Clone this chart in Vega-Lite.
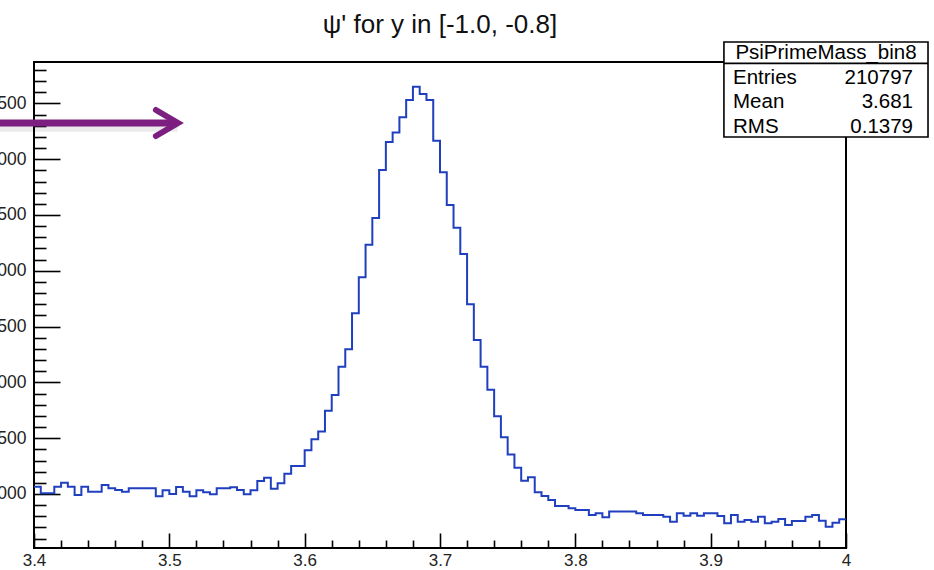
{
  "$schema": "https://vega.github.io/schema/vega-lite/v6.json",
  "width": 812,
  "height": 486,
  "autosize": {"type": "none"},
  "padding": {"left": 34, "top": 62, "right": 88, "bottom": 22},
  "background": "white",
  "title": {"text": "ψ' for y in [-1.0, -0.8]", "fontSize": 26, "font": "Liberation Sans", "fontWeight": "normal", "color": "#111111", "offset": 3, "anchor": "middle"},
  "config": {
    "view": {"stroke": "black", "strokeWidth": 2},
    "axis": {"labelFont": "Liberation Sans", "labelFontSize": 17.5, "labelColor": "#222222", "tickColor": "black", "tickWidth": 1.6, "grid": false, "domain": false, "title": null, "labelFlush": false, "labelOverlap": false}
  },
  "resolve": {"axis": {"x": "independent", "y": "independent"}},
  "datasets": {
    "hist": [
      {"lo": 3.400, "hi": 3.405, "n": 1065}, {"lo": 3.405, "hi": 3.410, "n": 1006}, {"lo": 3.410, "hi": 3.415, "n": 1006}, {"lo": 3.415, "hi": 3.420, "n": 1065},
      {"lo": 3.420, "hi": 3.425, "n": 1101}, {"lo": 3.425, "hi": 3.430, "n": 1065}, {"lo": 3.430, "hi": 3.435, "n": 991}, {"lo": 3.435, "hi": 3.440, "n": 1065},
      {"lo": 3.440, "hi": 3.445, "n": 1021}, {"lo": 3.445, "hi": 3.450, "n": 1021}, {"lo": 3.450, "hi": 3.455, "n": 1081}, {"lo": 3.455, "hi": 3.460, "n": 1051},
      {"lo": 3.460, "hi": 3.465, "n": 1036}, {"lo": 3.465, "hi": 3.470, "n": 1021}, {"lo": 3.470, "hi": 3.475, "n": 1051}, {"lo": 3.475, "hi": 3.480, "n": 1051},
      {"lo": 3.480, "hi": 3.485, "n": 1051}, {"lo": 3.485, "hi": 3.490, "n": 1051}, {"lo": 3.490, "hi": 3.495, "n": 979}, {"lo": 3.495, "hi": 3.500, "n": 1033},
      {"lo": 3.500, "hi": 3.505, "n": 999}, {"lo": 3.505, "hi": 3.510, "n": 1062}, {"lo": 3.510, "hi": 3.515, "n": 1021}, {"lo": 3.515, "hi": 3.520, "n": 979},
      {"lo": 3.520, "hi": 3.525, "n": 1033}, {"lo": 3.525, "hi": 3.530, "n": 1015}, {"lo": 3.530, "hi": 3.535, "n": 997}, {"lo": 3.535, "hi": 3.540, "n": 1051},
      {"lo": 3.540, "hi": 3.545, "n": 1051}, {"lo": 3.545, "hi": 3.550, "n": 1060}, {"lo": 3.550, "hi": 3.555, "n": 1036}, {"lo": 3.555, "hi": 3.560, "n": 997},
      {"lo": 3.560, "hi": 3.565, "n": 1033}, {"lo": 3.565, "hi": 3.570, "n": 1116}, {"lo": 3.570, "hi": 3.575, "n": 1146}, {"lo": 3.575, "hi": 3.580, "n": 1048},
      {"lo": 3.580, "hi": 3.585, "n": 1096}, {"lo": 3.585, "hi": 3.590, "n": 1182}, {"lo": 3.590, "hi": 3.595, "n": 1251}, {"lo": 3.595, "hi": 3.600, "n": 1251},
      {"lo": 3.600, "hi": 3.605, "n": 1391}, {"lo": 3.605, "hi": 3.610, "n": 1490}, {"lo": 3.610, "hi": 3.615, "n": 1561}, {"lo": 3.615, "hi": 3.620, "n": 1746},
      {"lo": 3.620, "hi": 3.625, "n": 1887}, {"lo": 3.625, "hi": 3.630, "n": 2141}, {"lo": 3.630, "hi": 3.635, "n": 2297}, {"lo": 3.635, "hi": 3.640, "n": 2619},
      {"lo": 3.640, "hi": 3.645, "n": 2942}, {"lo": 3.645, "hi": 3.650, "n": 3234}, {"lo": 3.650, "hi": 3.655, "n": 3473}, {"lo": 3.655, "hi": 3.660, "n": 3903},
      {"lo": 3.660, "hi": 3.665, "n": 4154}, {"lo": 3.665, "hi": 3.670, "n": 4240}, {"lo": 3.670, "hi": 3.675, "n": 4375}, {"lo": 3.675, "hi": 3.680, "n": 4530},
      {"lo": 3.680, "hi": 3.685, "n": 4649}, {"lo": 3.685, "hi": 3.690, "n": 4584}, {"lo": 3.690, "hi": 3.695, "n": 4530}, {"lo": 3.695, "hi": 3.700, "n": 4166},
      {"lo": 3.700, "hi": 3.705, "n": 3882}, {"lo": 3.705, "hi": 3.710, "n": 3589}, {"lo": 3.710, "hi": 3.715, "n": 3386}, {"lo": 3.715, "hi": 3.720, "n": 3150},
      {"lo": 3.720, "hi": 3.725, "n": 2700}, {"lo": 3.725, "hi": 3.730, "n": 2380}, {"lo": 3.730, "hi": 3.735, "n": 2141}, {"lo": 3.735, "hi": 3.740, "n": 1935},
      {"lo": 3.740, "hi": 3.745, "n": 1696}, {"lo": 3.745, "hi": 3.750, "n": 1508}, {"lo": 3.750, "hi": 3.755, "n": 1354}, {"lo": 3.755, "hi": 3.760, "n": 1235},
      {"lo": 3.760, "hi": 3.765, "n": 1119}, {"lo": 3.765, "hi": 3.770, "n": 1149}, {"lo": 3.770, "hi": 3.775, "n": 1015}, {"lo": 3.775, "hi": 3.780, "n": 982},
      {"lo": 3.780, "hi": 3.785, "n": 946}, {"lo": 3.785, "hi": 3.790, "n": 892}, {"lo": 3.790, "hi": 3.795, "n": 892}, {"lo": 3.795, "hi": 3.800, "n": 872},
      {"lo": 3.800, "hi": 3.805, "n": 857}, {"lo": 3.805, "hi": 3.810, "n": 857}, {"lo": 3.810, "hi": 3.815, "n": 812}, {"lo": 3.815, "hi": 3.820, "n": 827},
      {"lo": 3.820, "hi": 3.825, "n": 791}, {"lo": 3.825, "hi": 3.830, "n": 842}, {"lo": 3.830, "hi": 3.835, "n": 842}, {"lo": 3.835, "hi": 3.840, "n": 842},
      {"lo": 3.840, "hi": 3.845, "n": 842}, {"lo": 3.845, "hi": 3.850, "n": 827}, {"lo": 3.850, "hi": 3.855, "n": 812}, {"lo": 3.855, "hi": 3.860, "n": 812},
      {"lo": 3.860, "hi": 3.865, "n": 812}, {"lo": 3.865, "hi": 3.870, "n": 797}, {"lo": 3.870, "hi": 3.875, "n": 752}, {"lo": 3.875, "hi": 3.880, "n": 827},
      {"lo": 3.880, "hi": 3.885, "n": 806}, {"lo": 3.885, "hi": 3.890, "n": 827}, {"lo": 3.890, "hi": 3.895, "n": 806}, {"lo": 3.895, "hi": 3.900, "n": 827},
      {"lo": 3.900, "hi": 3.905, "n": 827}, {"lo": 3.905, "hi": 3.910, "n": 803}, {"lo": 3.910, "hi": 3.915, "n": 737}, {"lo": 3.915, "hi": 3.920, "n": 812},
      {"lo": 3.920, "hi": 3.925, "n": 752}, {"lo": 3.925, "hi": 3.930, "n": 767}, {"lo": 3.930, "hi": 3.935, "n": 752}, {"lo": 3.935, "hi": 3.940, "n": 797},
      {"lo": 3.940, "hi": 3.945, "n": 737}, {"lo": 3.945, "hi": 3.950, "n": 752}, {"lo": 3.950, "hi": 3.955, "n": 776}, {"lo": 3.955, "hi": 3.960, "n": 722},
      {"lo": 3.960, "hi": 3.965, "n": 758}, {"lo": 3.965, "hi": 3.970, "n": 758}, {"lo": 3.970, "hi": 3.975, "n": 797}, {"lo": 3.975, "hi": 3.980, "n": 812},
      {"lo": 3.980, "hi": 3.985, "n": 761}, {"lo": 3.985, "hi": 3.990, "n": 707}, {"lo": 3.990, "hi": 3.995, "n": 743}, {"lo": 3.995, "hi": 4.000, "n": 773}
    ],
    "shaft": [{"x0": 3.36, "x1": 3.5055, "y": 4324}],
    "shadow": [{"x0": 3.36, "x1": 3.506, "y": 4272}],
    "head": [
      {"k": 0, "x": 3.4901, "y": 4441},
      {"k": 1, "x": 3.5064, "y": 4324},
      {"k": 2, "x": 3.4901, "y": 4208}
    ],
    "box": [{"x0": 3.9098, "x1": 4.0606, "y0": 4199, "y1": 5050, "ysep": 4859}],
    "header": [{"name": "PsiPrimeMass_bin8", "y": 4952}],
    "stats": [
      {"key": "Entries", "val": "210797", "y": 4728},
      {"key": "Mean", "val": "3.681", "y": 4512},
      {"key": "RMS", "val": "0.1379", "y": 4289}
    ]
  },
  "layer": [
    {
      "data": {"name": "hist"},
      "transform": [{"fold": ["lo", "hi"], "as": ["edge", "xv"]}],
      "mark": {"type": "line", "color": "#1f3fbf", "strokeWidth": 2, "strokeJoin": "miter", "clip": true},
      "encoding": {
        "x": {"field": "xv", "type": "quantitative",
              "scale": {"domain": [3.4, 4.0], "nice": false, "zero": false},
              "axis": {"orient": "bottom", "values": [3.4, 3.5, 3.6, 3.7, 3.8, 3.9, 4.0], "format": ".1~f", "tickSize": -15, "labelPadding": 19, "labelFontSize": 17}},
        "y": {"field": "n", "type": "quantitative",
              "scale": {"domain": [516, 4871], "nice": false, "zero": false},
              "axis": {"orient": "left", "values": [1000, 1500, 2000, 2500, 3000, 3500, 4000, 4500], "format": "d", "tickSize": -26, "labelPadding": 34}},
        "order": {"value": null}
      }
    },
    {
      "data": {"name": "shadow"},
      "mark": {"type": "rule", "color": "#000000", "opacity": 0.08, "strokeWidth": 6, "clip": false},
      "encoding": {
        "x": {"field": "x0", "type": "quantitative",
              "axis": {"orient": "bottom", "values": [3.42, 3.44, 3.46, 3.48, 3.52, 3.54, 3.56, 3.58, 3.62, 3.64, 3.66, 3.68, 3.72, 3.74, 3.76, 3.78, 3.82, 3.84, 3.86, 3.88, 3.92, 3.94, 3.96, 3.98], "labels": false, "tickSize": -8}},
        "x2": {"field": "x1"},
        "y": {"field": "y", "type": "quantitative",
              "axis": {"orient": "left", "values": [600, 700, 800, 900, 1100, 1200, 1300, 1400, 1600, 1700, 1800, 1900, 2100, 2200, 2300, 2400, 2600, 2700, 2800, 2900, 3100, 3200, 3300, 3400, 3600, 3700, 3800, 3900, 4100, 4200, 4300, 4400, 4600, 4700, 4800], "labels": false, "tickSize": -12}}
      }
    },
    {
      "data": {"name": "shaft"},
      "mark": {"type": "rule", "color": "#7d1f80", "strokeWidth": 7, "clip": false},
      "encoding": {
        "x": {"field": "x0", "type": "quantitative", "axis": null},
        "x2": {"field": "x1"},
        "y": {"field": "y", "type": "quantitative", "axis": null}
      }
    },
    {
      "data": {"name": "head"},
      "mark": {"type": "line", "color": "#7d1f80", "strokeWidth": 6, "strokeCap": "round", "strokeJoin": "miter", "clip": false},
      "encoding": {
        "x": {"field": "x", "type": "quantitative", "axis": null},
        "y": {"field": "y", "type": "quantitative", "axis": null},
        "order": {"field": "k"}
      }
    },
    {
      "data": {"name": "box"},
      "mark": {"type": "rect", "fill": "white", "stroke": "black", "strokeWidth": 1.6, "clip": false},
      "encoding": {
        "x": {"field": "x0", "type": "quantitative", "axis": null},
        "x2": {"field": "x1"},
        "y": {"field": "y0", "type": "quantitative", "axis": null},
        "y2": {"field": "y1"}
      }
    },
    {
      "data": {"name": "box"},
      "mark": {"type": "rule", "color": "black", "strokeWidth": 1.6, "clip": false},
      "encoding": {
        "x": {"field": "x0", "type": "quantitative", "axis": null},
        "x2": {"field": "x1"},
        "y": {"field": "ysep", "type": "quantitative", "axis": null}
      }
    },
    {
      "data": {"name": "header"},
      "mark": {"type": "text", "font": "Liberation Sans", "fontSize": 20.5, "color": "black", "align": "center", "baseline": "middle", "clip": false},
      "encoding": {
        "x": {"datum": 3.9852, "type": "quantitative", "axis": null},
        "y": {"field": "y", "type": "quantitative", "axis": null},
        "text": {"field": "name"}
      }
    },
    {
      "data": {"name": "stats"},
      "mark": {"type": "text", "font": "Liberation Sans", "fontSize": 20.5, "color": "black", "align": "left", "baseline": "middle", "clip": false},
      "encoding": {
        "x": {"datum": 3.9165, "type": "quantitative", "axis": null},
        "y": {"field": "y", "type": "quantitative", "axis": null},
        "text": {"field": "key"}
      }
    },
    {
      "data": {"name": "stats"},
      "mark": {"type": "text", "font": "Liberation Sans", "fontSize": 20.5, "color": "black", "align": "right", "baseline": "middle", "clip": false},
      "encoding": {
        "x": {"datum": 4.0495, "type": "quantitative", "axis": null},
        "y": {"field": "y", "type": "quantitative", "axis": null},
        "text": {"field": "val"}
      }
    }
  ]
}
